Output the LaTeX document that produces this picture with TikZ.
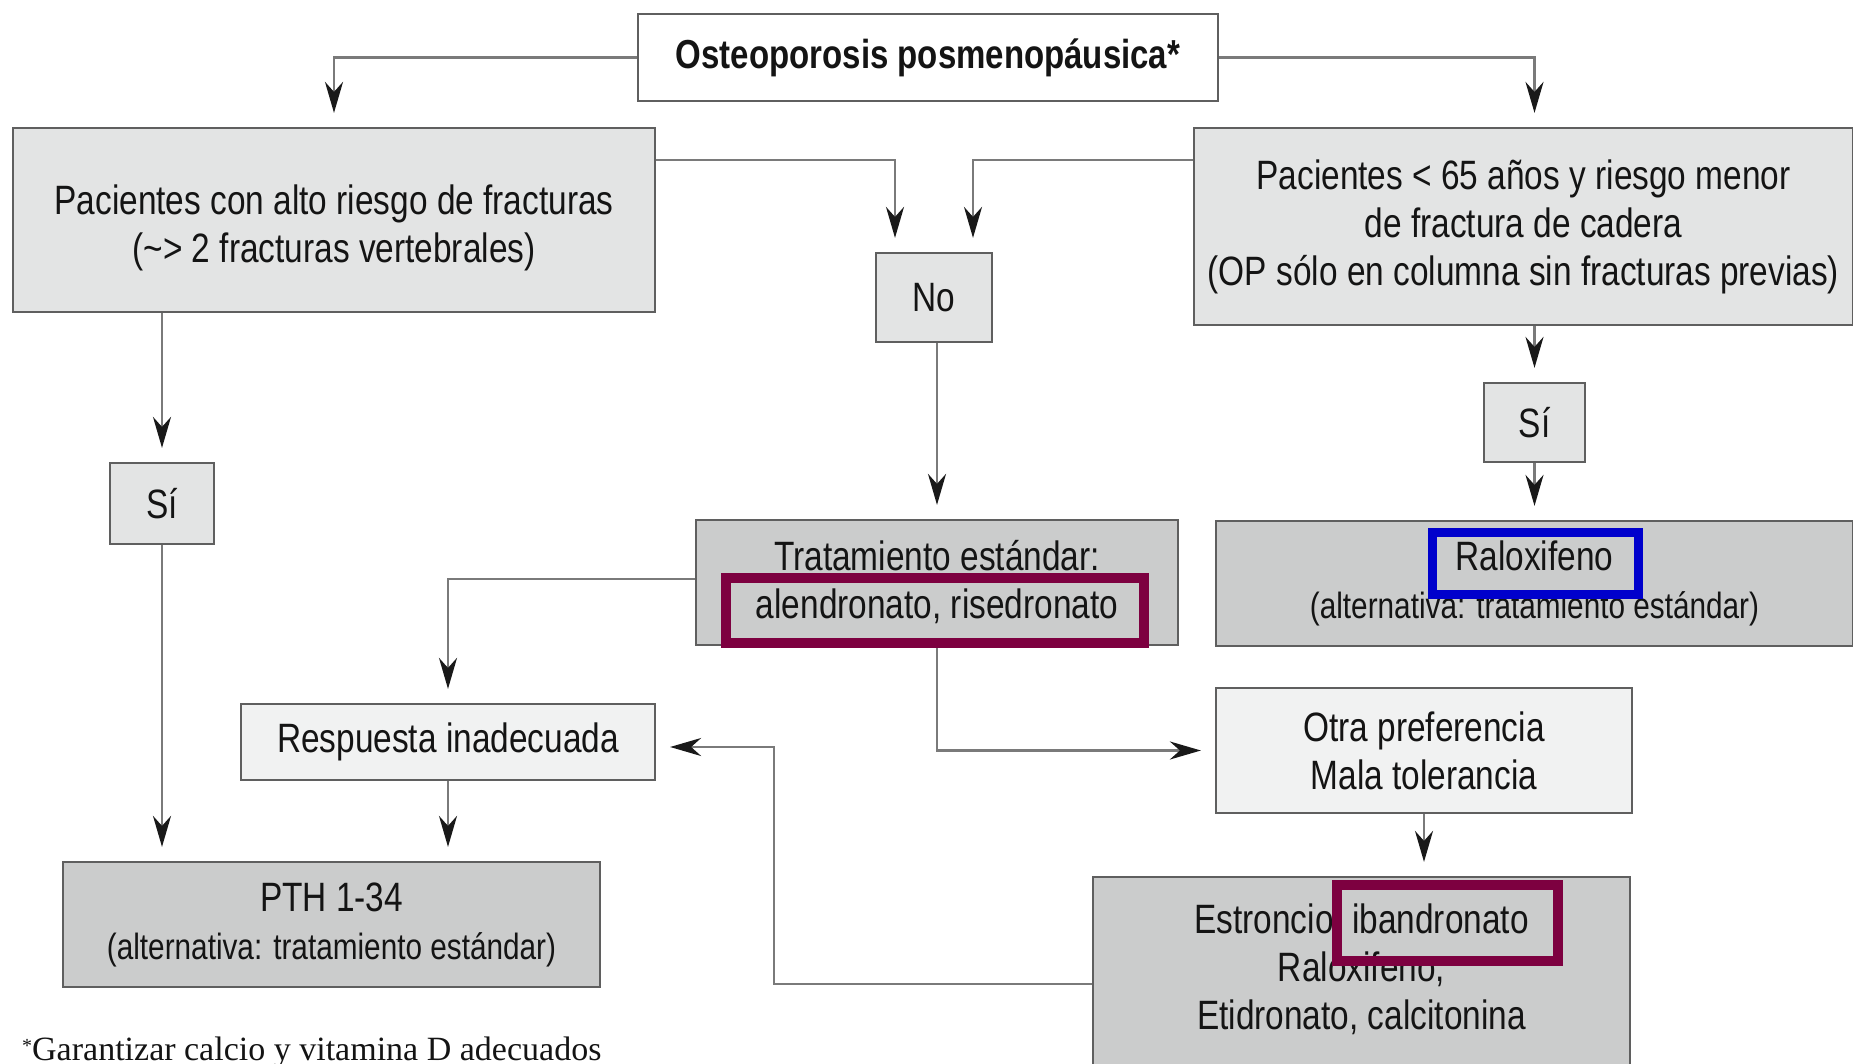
\documentclass[tikz,border=0pt]{standalone}
\usepackage{fontspec}
\setmainfont[FakeStretch=0.815]{Liberation Sans}
\newfontfamily\footfont{Liberation Serif}
\usetikzlibrary{arrows.meta,calc}
\definecolor{glight}{HTML}{E3E4E4}
\definecolor{gmid}{HTML}{CBCCCC}
\definecolor{gpale}{HTML}{F1F2F2}
\definecolor{edgec}{HTML}{5F5F5F}
\definecolor{wire}{HTML}{7A7A7A}
\definecolor{maroonc}{HTML}{7D0040}
\definecolor{hblue}{HTML}{0000CC}
\definecolor{ink}{HTML}{141414}
\begin{document}
\begin{tikzpicture}[x=1pt,y=-1pt,
  box/.style={draw=edgec, line width=2.2pt, inner sep=0pt, text=ink, align=center,
              font=\fontsize{41}{48}\selectfont},
  txt/.style={text=ink, align=center, inner sep=0pt, font=\fontsize{41}{48}\selectfont},
  conn/.style={draw=wire, line width=2.5pt,
               -{Stealth[length=31pt,width=18pt,inset=10pt,color=black!90]}, shorten >=14pt},
  hl/.style={line width=10pt},
]
\useasboundingbox (0,0) rectangle (1853,1064);
\fill[white] (0,0) rectangle (1853,1064);
\clip (0,0) rectangle (1853,1064);

% nodes
\node[box, fill=white, minimum width=580, minimum height=87,
      font=\bfseries\fontsize{40.5}{48}\selectfont] (top) at (928,57.5) {Osteoporosis posmenopáusica*};
\node[box, fill=glight, minimum width=642, minimum height=184] (hi) at (334,220) {};
\node[txt] (hitxt) at (334,228)
  {Pacientes con alto riesgo de fracturas\\(\textasciitilde> 2 fracturas vertebrales)};
\node[box, fill=glight, minimum width=659, minimum height=197] (lo) at (1523.5,226.5)
  {Pacientes < 65 años y riesgo menor\\de fractura de cadera\\(OP sólo en columna sin fracturas previas)};
\node[box, fill=glight, minimum width=116, minimum height=89] (no) at (934,297.5) {No};
\node[box, fill=glight, minimum width=104, minimum height=81] (siL) at (162,503.5) {Sí};
\node[box, fill=glight, minimum width=101, minimum height=79] (siR) at (1534.5,422.5) {Sí};
\node[box, fill=gmid, minimum width=482, minimum height=125] (trat) at (937,582.5)
  {Tratamiento estándar:\\alendronato, risedronato};
\node[box, fill=gmid, minimum width=637, minimum height=125] (ral) at (1534.5,583.5)
  {Raloxifeno\\{\fontsize{36.5}{48}\selectfont (alternativa: tratamiento estándar)}};
\node[box, fill=gpale, minimum width=414, minimum height=76] (resp) at (448,742) {Respuesta inadecuada};
\node[box, fill=gmid, minimum width=537, minimum height=125] (pth) at (331.5,924.5)
  {PTH 1-34\\{\fontsize{36.5}{46}\selectfont (alternativa: tratamiento estándar)}};
\node[box, fill=gpale, minimum width=416, minimum height=125] (otra) at (1424,750.5)
  {Otra preferencia\\Mala tolerancia};
\node[box, fill=gmid, minimum width=537, minimum height=223] (est) at (1361.5,988.5) {};
\node[txt] (esttxt) at (1361.5,969.5)
  {Estroncio, ibandronato\\Raloxifeno,\\Etidronato, calcitonina};
\node[anchor=base west, inner sep=0pt, text=ink, font=\footfont\fontsize{34}{38}\selectfont] (foot) at (22,1060)
  {\raisebox{8pt}{\fontsize{20}{20}\selectfont *}Garantizar calcio y vitamina D adecuados};

\coordinate (j1) at (774,747);

% connectors
\draw[conn] (top.west) -| (hi.north);
\draw[conn] (top.east) -| (lo.north -| siR.north);
\draw[conn] (hi.east |- 0,160) -| ([xshift=-39pt]no.north);
\draw[conn] (lo.west |- 0,160) -| ([xshift=39pt]no.north);
\draw[conn] (trat.north |- no.south) -- (trat.north);
\draw[conn] (siL.north |- hi.south) -- (siL.north);
\draw[conn] (siL.south) -- (siL.south |- pth.north);
\draw[conn] (lo.south -| siR.north) -- (siR.north);
\draw[conn] (siR.south) -- (siR.south |- ral.north);
\draw[conn] (trat.west |- 0,579) -| (resp.north);
\draw[conn] (resp.south) -- (resp.south |- pth.north);
\draw[conn] (trat.south) |- (otra.west);
\draw[conn] (otra.south) -- (otra.south |- est.north);
\draw[conn] (est.west |- 0,984) -| (j1) -- (resp.east |- j1);

% highlight frames
\draw[hl, draw=maroonc] (726,578) rectangle (1144,643);
\draw[hl, draw=hblue, line width=9pt] (1432.5,532.5) rectangle (1638.5,594.5);
\draw[hl, draw=maroonc] (1337,885) rectangle (1558,961);
\end{tikzpicture}
\end{document}
